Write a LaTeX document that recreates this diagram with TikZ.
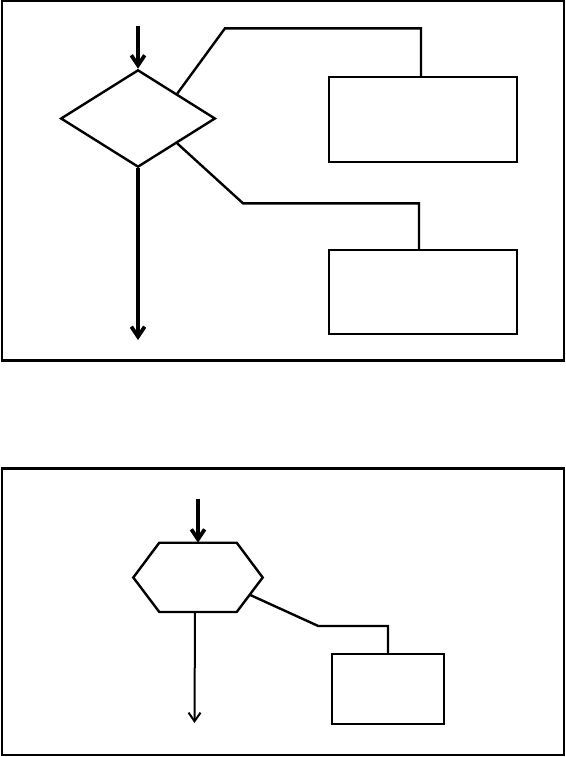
\documentclass[tikz,border=0pt]{standalone}
\usepackage{tikz}
\usetikzlibrary{shapes.geometric,calc,arrows.meta}

\begin{document}
\begin{tikzpicture}[x=0.75pt,y=-0.75pt,
    line/.style={line width=1.8pt},
    flow/.style={line width=2.8pt,-{Straight Barb[length=7.5pt,width=10pt]}},
    box/.style={draw,line width=1.8pt,rectangle,inner sep=0pt}]
    \useasboundingbox (0,0) rectangle (565,757);

    % Upper panel: frame
    \draw[line] (2,1) rectangle (564,360.5);
    % Decision diamond
    \node[draw,line width=1.8pt,diamond,inner sep=0pt,
          minimum width=116pt,minimum height=73pt] (dec) at (138,118.5) {};
    % Branch boxes
    \node[box,minimum width=140.6pt,minimum height=63.4pt] (bx1) at (423,119.5) {};
    \node[box,minimum width=140.6pt,minimum height=63pt] (bx2) at (423,292) {};
    % Flow in and out
    \coordinate (in1) at (138,26);
    \coordinate (out1) at (138,340);
    \draw[flow] (in1) -- (dec.north);
    \draw[flow] (dec.south) -- (out1);
    % Branches to the boxes
    \coordinate (k1) at (421,28.3);
    \coordinate (k2) at (419,203.3);
    \draw[line] (dec.north east) -- (225,28.3) -- (k1) -- (k1 |- bx1.north);
    \draw[line] (dec.south east) -- (243,203.3) -- (k2) -- (k2 |- bx2.north);

    % Lower panel: frame
    \draw[line] (2,468.5) rectangle (564,755);
    % Hexagon (drawn from its corners)
    \coordinate (hl) at (133.3,577.5);
    \coordinate (htl) at (159.3,542.7);
    \coordinate (htr) at (236.7,542.7);
    \coordinate (hr) at (262.7,577.5);
    \coordinate (hbr) at (236.7,612);
    \coordinate (hbl) at (159.3,612);
    \draw[line,line join=miter] (hl) -- (htl) -- (htr) -- (hr) -- (hbr) -- (hbl) -- cycle;
    \coordinate (hse) at ($(hr)!0.5!(hbr)$);
    % Box
    \node[box,minimum width=84pt,minimum height=52.3pt] (bx3) at (388,689) {};
    % Flow in and out
    \coordinate (in2) at (198,499);
    \coordinate (hn) at (198,542.7);
    \coordinate (hs) at (195,612);
    \coordinate (out2) at (194.5,723);
    \draw[flow] (in2) -- (hn);
    \draw[line width=1.5pt,-{Straight Barb[length=6.5pt,width=9pt]}] (hs) -- (out2);
    % Branch to the box
    \draw[line] (hse) -- (318.3,626) -| (bx3.north);
\end{tikzpicture}
\end{document}
